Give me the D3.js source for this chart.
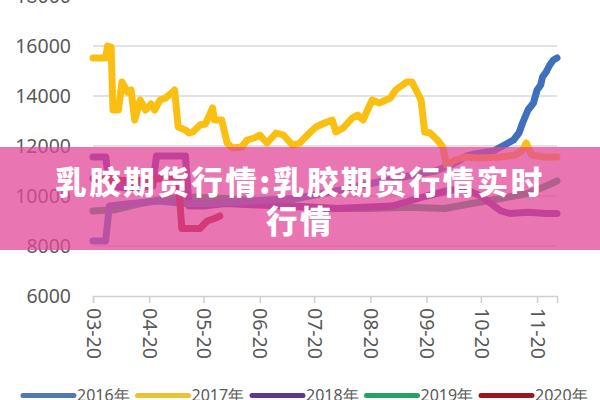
<!DOCTYPE html>
<html><head><meta charset="utf-8">
<script src="https://cdn.jsdelivr.net/npm/d3@7"></script>
<style>html,body{margin:0;padding:0;background:#fff;}svg{display:block;}</style>
</head><body>
<svg id="chart" width="600" height="400"></svg>
<script>
const yTicks = [6000, 8000, 10000, 12000, 14000, 16000, 18000];
const xTickLabels = ["03-20","04-20","05-20","06-20","07-20","08-20","09-20","10-20","11-20"];
const seriesNames = ["2016年","2017年","2018年","2019年","2020年"];
const seriesColors = ["#3f6fbd","#fbbf12","#6c2f98","#22a35f","#a3101c"];
const legendColors = ["#5279b3","#ecc232","#5f3690","#27a064","#a0121d"];
const title1 = "乳胶期货行情:乳胶期货行情实时";
const title2 = "行情";

const dates2016 = ["03-20","03-27","03-29","04-10","04-25","05-10","05-25","06-15","07-10","08-01","08-20","09-10","09-25","10-05","10-12","10-18","10-27","10-31","11-07","11-10","11-12","11-15","11-18","11-20","11-22","11-23","11-25","11-27","11-29","12-01"];
const vals2016 = [8200,8200,9600,9700,9800,9700,9700,9800,9900,10200,10500,10800,11000,11300,11600,11700,11800,11960,12240,12520,12920,13440,13720,14240,14440,14760,14960,15240,15440,15520];

const dates2017 = ["03-20","03-27","03-28","03-30","03-31","04-03","04-05","04-08","04-10","04-12","04-15","04-18","04-21","04-23","04-26","04-29","05-03","05-04","05-06","05-10","05-12","05-14","05-18","05-21","05-25","05-26","05-30","06-02","06-05","06-10","06-13","06-17","06-20","06-24","06-29","07-03","07-08","07-12","07-18","07-21","07-27","07-30","08-01","08-05","08-10","08-13","08-16","08-21","08-25","08-31","09-03","09-09","09-12","09-17","09-19","09-22","09-26","09-29","10-01","10-06","10-11","10-19","10-31","11-08","11-12","11-14","11-17","11-24","12-01"];
const vals2017 = [15520,15520,16000,15960,13440,13440,14560,14160,14240,13040,13840,13440,13680,13440,13840,13920,14160,14240,12760,12640,12520,12560,12840,12880,13520,13040,13040,12120,11920,11960,12240,12320,12440,12120,12520,12440,12040,12120,12560,12760,12960,13040,12560,12720,13120,13240,13040,13840,13720,13920,14240,14560,14560,13840,12560,12520,12240,11960,11240,11440,11560,11520,11560,11640,11840,12120,11640,11560,11560];

const dates2018 = ["03-20","03-27","03-29","04-10","04-22","04-24","05-10","05-12","05-20","06-01","07-01","08-01","09-01","09-20","10-01","10-10","10-20","10-31","11-05","11-15","11-25","12-01"];
const vals2018 = [11560,11560,10400,10300,10400,11600,11600,9600,9600,9700,9600,9500,9600,10000,10200,10300,10000,9400,9300,9350,9300,9300];

const dates2019 = ["03-20","04-01","04-15","04-30","05-15","06-01","06-20","07-10","08-01","08-20","09-10","09-30","10-15","10-31","11-15","11-25","12-01"];
const vals2019 = [9400,9450,9700,9900,9950,9900,9800,9600,9500,9500,9550,9500,9700,9900,10100,10400,10600];

const dates2020 = ["03-20","04-10","04-25","05-06","05-08","05-18","05-22","05-26","05-29"];
const vals2020 = [10700,10600,10700,10640,8700,8700,9000,9100,9200];

const allDates = [dates2016,dates2017,dates2018,dates2019,dates2020];
const allVals = [vals2016,vals2017,vals2018,vals2019,vals2020];

const parse = d3.timeParse("%Y-%m-%d");
const toDate = s => parse("2001-" + s);

const svg = d3.select("#chart");
const x = d3.scaleTime().domain([toDate("03-20"), toDate("12-01")]).range([93, 557]);
const y = d3.scaleLinear().domain([6000, 18000]).range([296, -4]);

const font = "'Noto Sans', 'Open Sans', sans-serif";

// gridlines
svg.append("g").selectAll("line").data(yTicks.filter(v => v > 6000)).join("line")
  .attr("x1", 93).attr("x2", 557).attr("y1", d => y(d)).attr("y2", d => y(d))
  .attr("stroke", "#d9d9d9").attr("stroke-width", 1.5);

// y axis labels
const yAxis = d3.axisLeft(y).tickValues(yTicks).tickSize(0).tickPadding(0).tickFormat(d3.format("d"));
const yg = svg.append("g").attr("transform", "translate(71,0)").call(yAxis);
yg.select(".domain").remove();
yg.selectAll("text").attr("font-family", font).attr("font-size", 19.5).attr("fill", "#595959");

// x axis
const xTickDates = xTickLabels.map(toDate);
const xAxis = d3.axisBottom(x).tickValues(xTickDates).tickSize(7).tickPadding(6).tickFormat((d, i) => xTickLabels[i]);
const xg = svg.append("g").attr("transform", "translate(0,296)").call(xAxis);
xg.select(".domain").attr("stroke", "#d0d0d0").attr("stroke-width", 1.5);
xg.selectAll(".tick line").attr("stroke", "#d0d0d0").attr("stroke-width", 1.5);
xg.selectAll("text").attr("font-family", font).attr("font-size", 19.5).attr("fill", "#595959")
  .attr("transform", "rotate(90)").attr("text-anchor", "start").attr("x", 12).attr("y", 0).attr("dy", "0.35em");

// lines
const line = d3.line().x(d => x(d.date)).y(d => y(d.value)).curve(d3.curveLinear);
const order = [3, 2, 0, 4, 1];
order.forEach(i => {
  const pts = allDates[i].map((s, k) => ({date: toDate(s), value: allVals[i][k]}));
  svg.append("path").datum(pts).attr("d", line).attr("fill", "none")
    .attr("stroke", seriesColors[i]).attr("stroke-width", 7)
    .attr("stroke-linejoin", "round").attr("stroke-linecap", "round");
});

// legend
const lg = svg.append("g");
seriesNames.forEach((n, i) => {
  const x0 = 23 + i * 114.5;
  lg.append("line").attr("x1", x0).attr("x2", x0 + 51).attr("y1", 395.5).attr("y2", 395.5)
    .attr("stroke", legendColors[i]).attr("stroke-width", 5).attr("stroke-linecap", "round");
  lg.append("text").attr("x", x0 + 54).attr("y", 401).text(n)
    .attr("font-family", font).attr("font-size", 16).attr("fill", "#595959");
});

// banner overlay
svg.append("rect").attr("x", 0).attr("y", 147).attr("width", 600).attr("height", 103)
  .attr("fill", "#e2489a").attr("fill-opacity", 0.75);
const tfont = "'Noto Sans CJK SC', sans-serif";
svg.append("text").attr("x", 300).attr("y", 194).attr("text-anchor", "middle")
  .attr("font-family", tfont).attr("font-weight", 900).attr("font-size", 31.5)
  .attr("letter-spacing", 2.5).attr("fill", "#ffffff").text(title1);
svg.append("text").attr("x", 300).attr("y", 233).attr("text-anchor", "middle")
  .attr("font-family", tfont).attr("font-weight", 900).attr("font-size", 31.5)
  .attr("letter-spacing", 2.5).attr("fill", "#ffffff").text(title2);
</script>
</body></html>
